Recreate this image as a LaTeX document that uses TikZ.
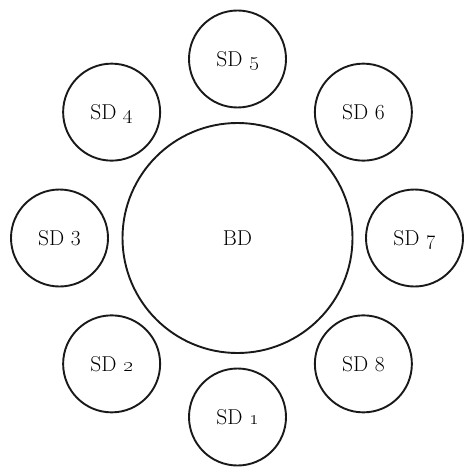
\documentclass[tikz,border=0pt]{standalone}
\usetikzlibrary{calc}
\begin{document}
\begin{tikzpicture}[x=1pt,y=1pt,
  disk/.style={circle,draw=black!90,line width=1.9pt,inner sep=0pt,
    font=\fontsize{21.5}{25}\selectfont,text=black,text depth=0pt},
  small/.style={disk,minimum size=97pt},
  big/.style={disk,minimum size=230pt}]
\useasboundingbox (0,0) rectangle (464,-468);
\coordinate (c) at (237.5,-238);
\node[big] (bd) at (c) {BD};
\node[small] (sd5) at ($(c)+(90:179)$) {SD \oldstylenums{5}};
\node[small] (sd6) at ($(c)+(45:178)$) {SD 6};
\node[small] (sd7) at ($(c)+(0:177)$) {SD \oldstylenums{7}};
\node[small] (sd8) at ($(c)+(-45:178)$) {SD 8};
\node[small] (sd1) at ($(c)+(-90:179)$) {SD \oldstylenums{1}};
\node[small] (sd2) at ($(c)+(-135:178)$) {SD \oldstylenums{2}};
\node[small] (sd3) at ($(c)+(180:178)$) {SD 3};
\node[small] (sd4) at ($(c)+(135:178)$) {SD \oldstylenums{4}};
\end{tikzpicture}
\end{document}
